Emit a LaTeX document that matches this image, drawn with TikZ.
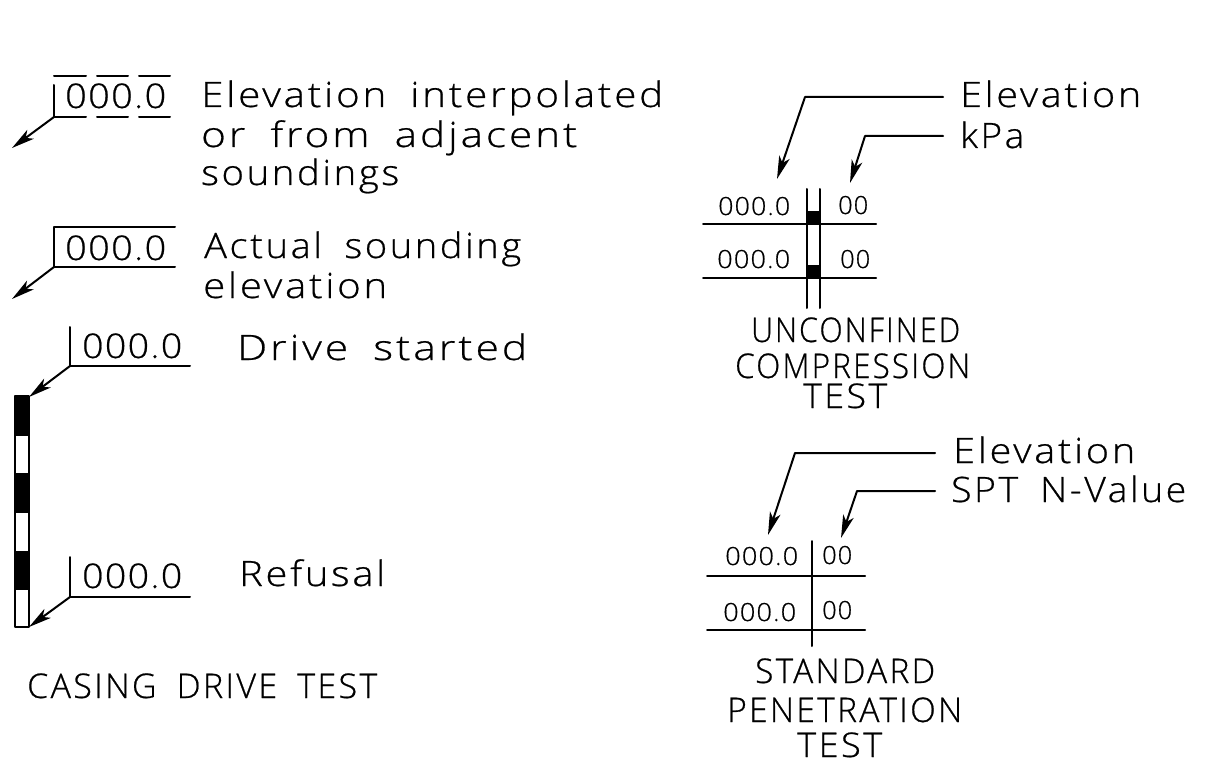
\documentclass[tikz,border=0pt]{standalone}
\usepackage{fontspec}
\usepackage{graphicx}
\usetikzlibrary{arrows.meta}
\setmainfont[UprightFont=* Light,LetterSpace=4,FakeBold=0.6]{Open Sans}
\newfontfamily\spaced[UprightFont=* Light,LetterSpace=7,FakeBold=0.6,WordSpace=1.8]{Open Sans}
\newcommand{\fitw}[2]{\resizebox{#1pt}{\height}{#2}}
\tikzset{
  x=1pt,y=-1pt,
  rule/.style={line width=2pt,line cap=round,line join=round,black},
  lead/.style={rule,-{Stealth[length=23pt,width=11pt,inset=6pt]}},
  lbl/.style={inner sep=0pt,anchor=base west,text=black,font=\fontsize{35}{35}\spaced},
  capl/.style={inner sep=0pt,anchor=base west,text=black,font=\fontsize{34}{34}\spaced},
  num/.style={inner sep=0pt,anchor=base west,text=black,font=\fontsize{34}{34}\selectfont},
  small/.style={inner sep=0pt,anchor=base west,text=black,font=\fontsize{25}{25}\selectfont}
}
\begin{document}
\begin{tikzpicture}
\useasboundingbox (0,0) rectangle (1212,762);
% --- left column labels
\node[lbl] (t1a) at (201,107) {\fitw{462}{Elevation interpolated}};
\node[lbl] (t1b) at (201,147) {\fitw{376}{or from adjacent}};
\node[lbl] (t1c) at (201,185) {\fitw{198}{soundings}};
\node[lbl] (t2a) at (204,258) {\fitw{317}{Actual sounding}};
\node[lbl] (t2b) at (203,298) {\fitw{184}{elevation}};
\node[lbl] (t3) at (237,360) {\fitw{290}{Drive started}};
\node[lbl] (t4) at (239,586) {\fitw{146}{Refusal}};
\node[capl] (t5) at (27,698) {\fitw{350}{CASING DRIVE TEST}};
% --- left column numbers
\node[num] (n1) at (65,108) {\fitw{101}{000.0}};
\node[num] (n2) at (65,260) {\fitw{101}{000.0}};
\node[num] (n3) at (82,358) {\fitw{100}{000.0}};
\node[num] (n4) at (82,588) {\fitw{100}{000.0}};
% --- interpolated elevation symbol
\coordinate (a1top) at (54,85);
\coordinate (a1) at (54,117);
\coordinate (a1tip) at (12,148);
\draw[rule] (a1top) -- (a1);
\foreach \xa/\xb in {54/86,97/128,139/170}{
  \draw[rule] (\xa,76) -- (\xb,76);
  \draw[rule] (\xa,117) -- (\xb,117);
}
\draw[lead] (a1) -- (a1tip);
% --- actual elevation symbol
\coordinate (b1tl) at (54,227);
\coordinate (b1tr) at (175,227);
\coordinate (b1) at (54,267);
\coordinate (b1r) at (175,267);
\coordinate (b1tip) at (12,299);
\draw[rule] (b1tr) -- (b1tl) -- (b1) -- (b1r);
\draw[lead] (b1) -- (b1tip);
% --- casing column
\draw[rule] (15,396) rectangle (29,627);
\foreach \ya/\yb in {396/436,473/513,551/590}{
  \fill[black] (15,\ya) rectangle (29,\yb);
}
% --- drive started
\coordinate (c1top) at (70,327);
\coordinate (c1) at (70,366);
\coordinate (c1r) at (190,366);
\coordinate (c1tip) at (29,397);
\draw[rule] (c1top) -- (c1) -- (c1r);
\draw[lead] (c1) -- (c1tip);
% --- refusal
\coordinate (d1top) at (70,557);
\coordinate (d1) at (70,597);
\coordinate (d1r) at (190,597);
\coordinate (d1tip) at (29,627);
\draw[rule] (d1top) -- (d1) -- (d1r);
\draw[lead] (d1) -- (d1tip);
% --- unconfined compression
\node[lbl] (e1) at (960,107) {\fitw{181}{Elevation}};
\node[lbl] (e2) at (960,148) {\fitw{64}{kPa}};
\coordinate (e1a) at (943,97);
\coordinate (e1b) at (805,97);
\coordinate (e1c) at (777,179);
\coordinate (e2a) at (943,136);
\coordinate (e2b) at (865,136);
\coordinate (e2c) at (850,183);
\draw[lead] (e1a) -- (e1b) -- (e1c);
\draw[lead] (e2a) -- (e2b) -- (e2c);
\draw[rule] (703,224) -- (876,224);
\draw[rule] (703,278) -- (876,278);
\draw[rule] (807,189) -- (807,308);
\draw[rule] (820,189) -- (820,308);
\fill[black] (807,211) rectangle (820,224);
\fill[black] (807,265) rectangle (820,278);
\node[small] (u1) at (718,215) {\fitw{72}{000.0}};
\node[small] (u2) at (838,214) {\fitw{30}{00}};
\node[small] (u3) at (717,268) {\fitw{73}{000.0}};
\node[small] (u4) at (840,268) {\fitw{30}{00}};
\node[capl] (u5) at (751,342) {\fitw{209}{UNCONFINED}};
\node[capl] (u6) at (735,378) {\fitw{235}{COMPRESSION}};
\node[capl] (u7) at (803,408) {\fitw{84}{TEST}};
% --- standard penetration
\node[lbl] (s1) at (953,463) {\fitw{182}{Elevation}};
\node[lbl] (s2) at (951,502) {\fitw{235}{SPT N-Value}};
\coordinate (s1a) at (935,453);
\coordinate (s1b) at (795,453);
\coordinate (s1c) at (768,535);
\coordinate (s2a) at (935,491);
\coordinate (s2b) at (857,491);
\coordinate (s2c) at (841,538);
\draw[lead] (s1a) -- (s1b) -- (s1c);
\draw[lead] (s2a) -- (s2b) -- (s2c);
\draw[rule] (707,576) -- (865,576);
\draw[rule] (707,630) -- (865,630);
\draw[rule] (812,541) -- (812,646);
\node[small] (p1) at (725,565) {\fitw{73}{000.0}};
\node[small] (p2) at (822,564) {\fitw{30}{00}};
\node[small] (p3) at (723,621) {\fitw{73}{000.0}};
\node[small] (p4) at (822,619) {\fitw{30}{00}};
\node[capl] (p5) at (755,683) {\fitw{180}{STANDARD}};
\node[capl] (p6) at (727,722) {\fitw{235}{PENETRATION}};
\node[capl] (p7) at (797,757) {\fitw{85}{TEST}};
\end{tikzpicture}
\end{document}
